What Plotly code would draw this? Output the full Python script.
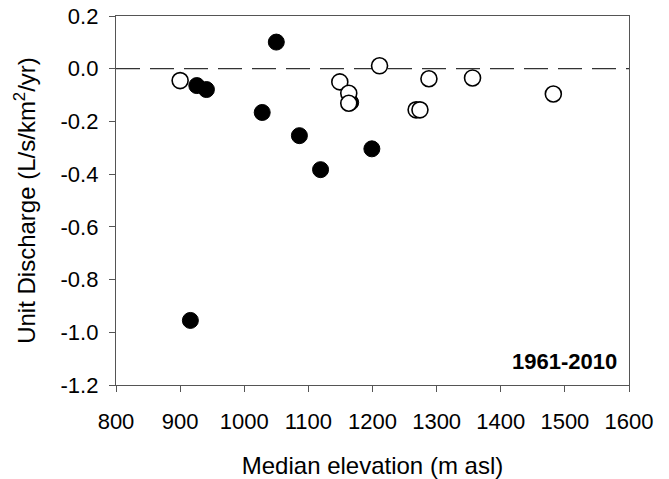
import plotly.graph_objects as go

# open circles
open_x = [900, 1149, 1163, 1163, 1211, 1268, 1274, 1288, 1356, 1482]
open_y = [-0.045, -0.050, -0.093, -0.131, 0.011, -0.156, -0.156, -0.038, -0.035, -0.096]

# filled circles
fill_x = [916, 926, 941, 1028, 1050, 1086, 1119, 1166, 1199]
fill_y = [-0.955, -0.064, -0.079, -0.166, 0.101, -0.254, -0.383, -0.128, -0.304]

y_ticks = [0.2, 0.0, -0.2, -0.4, -0.6, -0.8, -1.0, -1.2]
y_labels = ["0.2", "0.0", "-0.2", "-0.4", "-0.6", "-0.8", "-1.0", "-1.2"]
x_ticks = [800, 900, 1000, 1100, 1200, 1300, 1400, 1500, 1600]

period = "1961-2010"

fig = go.Figure()

fig.add_trace(go.Scatter(x=fill_x, y=fill_y, mode="markers",
                         marker=dict(size=16, color="black", line=dict(color="black", width=1))))
fig.add_trace(go.Scatter(x=open_x, y=open_y, mode="markers",
                         marker=dict(size=16, color="white", line=dict(color="black", width=1.6))))

# dashed zero line
fig.add_shape(type="line", xref="paper", x0=0, x1=1, yref="y", y0=0, y1=0,
              line=dict(color="#333333", width=1.3, dash="24px,10px"), layer="below")

fig.add_annotation(text="<b>" + period + "</b>", xref="paper", yref="paper",
                   x=0.98, y=0.065, xanchor="right", yanchor="middle", showarrow=False,
                   font=dict(size=22, color="black"))

axis_font = dict(family="Liberation Sans, Arial", size=22, color="black")

# page body adds 8px, so the figure is 8px smaller than the window
fig.update_layout(
    width=661, height=471,
    margin=dict(l=108, r=40, t=8, b=94),
    plot_bgcolor="white", paper_bgcolor="white",
    showlegend=False,
    font=dict(family="Liberation Sans, Arial", color="black"),
    xaxis=dict(range=[800, 1600], tickvals=x_ticks, automargin=False,
               showgrid=False, zeroline=False, showline=True, linecolor="#555555", linewidth=1.3,
               mirror=True, ticks="outside", ticklen=6, tickcolor="#555555",
               tickfont=axis_font, ticklabelstandoff=10, ticklabeloverflow="allow",
               title=dict(text="Median elevation (m asl)", font=dict(size=24), standoff=27)),
    yaxis=dict(range=[-1.2, 0.2], tickvals=y_ticks, ticktext=y_labels, automargin=False,
               showgrid=False, zeroline=False, showline=True, linecolor="#555555", linewidth=1.3,
               mirror=True, ticks="outside", ticklen=6, tickcolor="#555555",
               tickfont=axis_font, ticklabelstandoff=6, ticklabeloverflow="allow",
               title=dict(text="Unit Discharge (L/s/km<sup>2</sup>/yr)", font=dict(size=24), standoff=18)),
)

fig.write_html("out.html")
